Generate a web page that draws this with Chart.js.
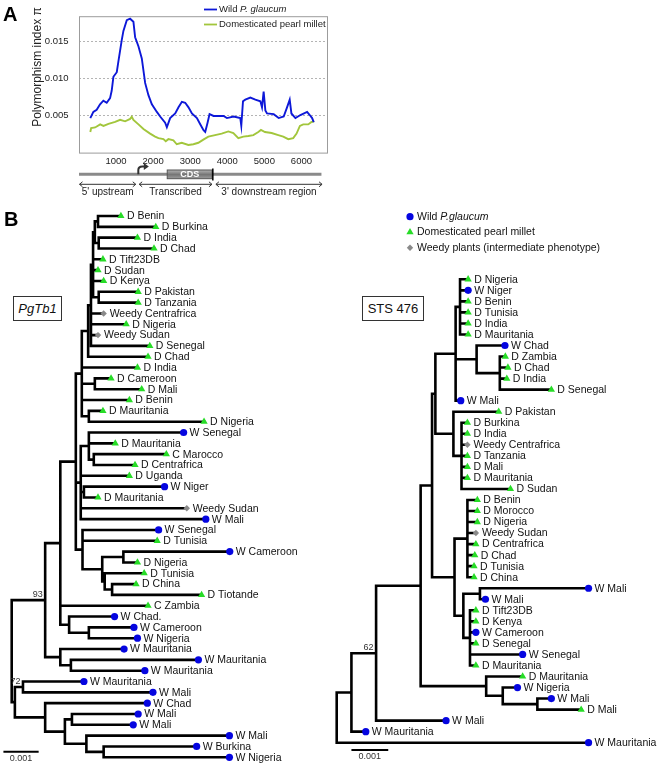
<!DOCTYPE html>
<html lang="en">
<head>
<meta charset="UTF-8">
<title>PgTb1 polymorphism and phylogenies</title>
<script src="https://cdn.jsdelivr.net/npm/chart.js"></script>
<style>
  body { margin: 0; background: #fff; font-family: Arial, "Liberation Sans", sans-serif; }
  #page { position: relative; width: 662px; height: 767px; overflow: hidden; }
  canvas, .panel, .tag { position: absolute; }
  .panel { font-weight: bold; font-size: 20px; line-height: 20px; color: #000; }
  .tag { border: 1px solid #333; display: flex; align-items: center; justify-content: center;
         font-size: 13px; color: #111; background: #fff; box-sizing: border-box; }
</style>
</head>
<body>
<div id="page">
  <canvas id="chartA" width="340" height="205" style="left:0;top:0"></canvas>
  <div class="panel" style="left:3px;top:4px">A</div>
  <canvas id="treeL" width="330" height="567" style="left:0;top:200px"></canvas>
  <canvas id="treeR" width="332" height="567" style="left:330px;top:200px"></canvas>
  <div class="panel" style="left:4px;top:209px">B</div>
  <div class="tag" style="left:13px;top:296px;width:49px;height:25px"><i>PgTb1</i></div>
  <div class="tag" style="left:362px;top:296px;width:62px;height:25px">STS 476</div>
</div>
<script>
// ---- panel A: sliding-window polymorphism along the PgTb1 region ----
const wildPos = [305, 387, 477, 568, 657, 748, 838, 883, 928, 1019, 1063, 1153, 1198, 1289, 1378, 1468, 1514,
  1603, 1694, 1784, 1873, 1965, 2100, 2189, 2324, 2370, 2459, 2595, 2684, 2776, 2865, 2954, 3046, 3181, 3270,
  3359, 3405, 3468, 3522, 3630, 3900, 3991, 4171, 4351, 4378, 4424, 4486, 4622, 4757, 4892, 4937, 4981, 5027,
  5072, 5251, 5387, 5522, 5612, 5684, 5730, 5838, 5973, 6154, 6224, 6289, 6332];
const wildPi = [0.00467, 0.0055, 0.00578, 0.00653, 0.00702, 0.00674, 0.00736, 0.00839, 0.01025, 0.01087, 0.01232,
  0.01521, 0.01645, 0.0179, 0.0181, 0.0177, 0.0156, 0.01438, 0.01273, 0.00942, 0.00777, 0.00653, 0.0055, 0.00488,
  0.00404, 0.00342, 0.00467, 0.00529, 0.00612, 0.00686, 0.00674, 0.00612, 0.00529, 0.00467, 0.00383, 0.00302,
  0.0028, 0.00404, 0.0052, 0.00495, 0.00495, 0.00467, 0.00488, 0.00467, 0.00364, 0.00694, 0.00715, 0.00743,
  0.00715, 0.00694, 0.00612, 0.00826, 0.0057, 0.00529, 0.0052, 0.00467, 0.00488, 0.00612, 0.00715, 0.00529,
  0.00467, 0.00508, 0.0055, 0.00508, 0.00467, 0.00413];
const domPos = [305, 328, 436, 571, 660, 795, 975, 1109, 1244, 1379, 1424, 1469, 1604, 1738, 1918, 2053, 2143,
  2278, 2340, 2412, 2547, 2637, 2771, 2951, 3086, 3220, 3355, 3490, 3670, 3849, 4029, 4164, 4298, 4433, 4568,
  4703, 4837, 4909, 5016, 5196, 5376, 5510, 5645, 5779, 5869, 5959, 6049, 6184, 6273, 6345];
const domPi = [0.00278, 0.00331, 0.0034, 0.00381, 0.0036, 0.00389, 0.00414, 0.00443, 0.00423, 0.00455, 0.00485,
  0.00443, 0.00381, 0.00319, 0.00257, 0.00216, 0.00195, 0.00182, 0.00154, 0.00182, 0.00166, 0.00113, 0.00133,
  0.00104, 0.00113, 0.00133, 0.00175, 0.00216, 0.00237, 0.00257, 0.00286, 0.00265, 0.00195, 0.00216, 0.00224,
  0.00237, 0.00278, 0.00306, 0.00278, 0.00265, 0.00237, 0.00216, 0.00182, 0.00195, 0.00257, 0.0036, 0.00381,
  0.00381, 0.00414, 0.00423];
const xTicks = [1000, 2000, 3000, 4000, 5000, 6000];
const yTicks = [0.005, 0.010, 0.015];

// gene model under the axis (bp, same scale as the plot)
const locusSpan = [0, 6540];
const tssPos = 1600;
const cdsSpan = [2380, 3590];
const stopPos = 3610;
const regionSpans = [[0, 1545], [1610, 3600], [3680, 6570]];
const regionNames = ["5' upstream", "Transcribed", "3' downstream region"];

// ---- panel B: trees. Depths are distances from the root, in 10^-3 subst./site ----
function L(name, type, d) { return { name, type, d }; }
function N(d, kids, boot) { return { d, kids, boot }; }

const pgtb1Tree = N(0, [
  N(0.95, [
    N(1.38, [
      N(1.82, [
        N(1.99, [
          N(2.17, [
            N(2.25, [
              N(2.31, [
                N(2.36, [
                  N(2.45, [L('D Benin', 'D', 3.10), L('D Burkina', 'D', 4.09)]),
                  N(2.47, [L('D India', 'D', 3.57), L('D Chad', 'D', 4.04)])
                ]),
                L('D Tift23DB', 'D', 2.59),
                L('D Sudan', 'D', 2.45),
                L('D Kenya', 'D', 2.61),
                N(2.47, [L('D Pakistan', 'D', 3.59), L('D Tanzania', 'D', 3.59)])
              ]),
              L('Weedy Centrafrica', 'Weedy', 2.61),
              L('D Nigeria', 'D', 3.25),
              L('Weedy Sudan', 'Weedy', 2.45),
              L('D Senegal', 'D', 3.92)
            ]),
            L('D Chad', 'D', 3.87)
          ]),
          L('D India', 'D', 3.57),
          N(2.36, [L('D Cameroon', 'D', 2.82), L('D Mali', 'D', 3.69)]),
          L('D Benin', 'D', 3.34),
          N(2.19, [L('D Mauritania', 'D', 2.59), L('D Nigeria', 'D', 5.46)])
        ]),
        N(1.96, [
          N(2.19, [
            L('W Senegal', 'W', 4.88),
            L('D Mauritania', 'D', 2.94),
            N(2.33, [L('C Marocco', 'D', 4.39), L('D Centrafrica', 'D', 3.50)])
          ]),
          L('D Uganda', 'D', 3.34),
          N(2.05, [L('W Niger', 'W', 4.34), L('D Mauritania', 'D', 2.45)]),
          L('Weedy Sudan', 'Weedy', 4.97),
          L('W Mali', 'W', 5.51)
        ]),
        N(2.01, [
          L('W Senegal', 'W', 4.17),
          L('D Tunisia', 'D', 4.13),
          N(2.57, [
            N(3.17, [L('W Cameroon', 'W', 6.19), L('D Nigeria', 'D', 3.57)]),
            N(2.64, [
              L('D Tunisia', 'D', 3.76),
              N(2.85, [L('D China', 'D', 3.53), L('D Tiotande', 'D', 5.39)])
            ])
          ])
        ])
      ]),
      L('C Zambia', 'D', 3.87),
      N(1.63, [
        L('W Chad.', 'W', 2.92),
        N(2.19, [L('W Cameroon', 'W', 3.47), L('W Nigeria', 'W', 3.57)])
      ])
    ]),
    N(1.38, [
      L('W Mauritania', 'W', 3.19),
      N(1.68, [L('W Mauritania', 'W', 5.30), L('W Mauritania', 'W', 3.78)])
    ])
  ], 93),
  N(0.09, [
    N(0.32, [L('W Mauritania', 'W', 2.05), L('W Mali', 'W', 4.01)], 72),
    N(0.95, [
      L('W Chad', 'W', 3.85),
      N(1.51, [
        N(1.71, [L('W Mali', 'W', 3.59), L('W Mali', 'W', 3.45)]),
        N(2.12, [
          L('W Mali', 'W', 6.18),
          N(2.61, [L('W Burkina', 'W', 5.25), L('W Nigeria', 'W', 6.18)])
        ])
      ])
    ])
  ])
]);

const sts476Tree = N(0, [
  N(0.40, [
    N(1.07, [
      N(2.28, [
        N(2.59, [
          N(2.68, [
            N(3.23, [
              N(3.35, [L('D Nigeria', 'D', 3.57), L('W Niger', 'W', 3.57), L('D Benin', 'D', 3.57),
                       L('D Tunisia', 'D', 3.57), L('D India', 'D', 3.57), L('D Mauritania', 'D', 3.57)]),
              N(3.80, [
                L('W Chad', 'W', 4.57),
                N(4.43, [L('D Zambia', 'D', 4.58), L('D Chad', 'D', 4.65), L('D India', 'D', 4.62),
                         L('D Senegal', 'D', 5.83)])
              ]),
              L('W Mali', 'W', 3.37)
            ]),
            N(3.17, [
              L('D Pakistan', 'D', 4.40),
              N(3.39, [L('D Burkina', 'D', 3.55), L('D India', 'D', 3.55), L('Weedy Centrafrica', 'Weedy', 3.55),
                       L('D Tanzania', 'D', 3.55), L('D Mali', 'D', 3.55), L('D Mauritania', 'D', 3.55),
                       L('D Sudan', 'D', 4.72)])
            ])
          ]),
          N(3.20, [
            N(3.55, [L('D Benin', 'D', 3.82), L('D Morocco', 'D', 3.82), L('D Nigeria', 'D', 3.82),
                     L('Weedy Sudan', 'Weedy', 3.78), L('D Centrafrica', 'D', 3.78), L('D Chad', 'D', 3.75),
                     L('D Tunisia', 'D', 3.73), L('D China', 'D', 3.73)]),
            N(3.44, [
              N(3.89, [L('W Mali', 'W', 6.84), L('W Mali', 'W', 4.04)]),
              N(3.62, [L('D Tift23DB', 'D', 3.78), L('D Kenya', 'D', 3.78), L('W Cameroon', 'W', 3.78),
                       L('D Senegal', 'D', 3.78), L('W Senegal', 'W', 5.05), L('D Mauritania', 'D', 3.78)])
            ])
          ])
        ]),
        N(4.06, [
          L('D Mauritania', 'D', 5.05),
          N(4.51, [L('W Nigeria', 'W', 4.91), N(5.45, [L('W Mali', 'W', 5.83), L('D Mali', 'D', 6.64)])])
        ])
      ]),
      L('W Mali', 'W', 2.97)
    ], 62),
    L('W Mauritania', 'W', 0.79)
  ]),
  L('W Mauritania', 'W', 6.84)
]);

const markerStyle = {
  W: { pointStyle: 'circle', color: '#0505e0', radius: 3.6 },
  D: { pointStyle: 'triangle', color: '#27dc27', radius: 4.2 },
  Weedy: { pointStyle: 'rectRot', color: '#8a8a8a', radius: 3.2 }
};
const legendItems = [
  ['W', 'Wild ', 'P.glaucum'],
  ['D', 'Domesticated pearl millet', ''],
  ['Weedy', 'Weedy plants (intermediate phenotype)', '']
];

const FONT = 'Arial, "Liberation Sans", sans-serif';
Chart.defaults.font.family = FONT;

function line(ctx, x1, y1, x2, y2) {
  ctx.beginPath(); ctx.moveTo(x1, y1); ctx.lineTo(x2, y2); ctx.stroke();
}

// chart A
const panelADecor = {
  id: 'panelADecor',
  afterDraw(chart) {
    const { ctx, chartArea: a } = chart;
    const xs = chart.scales.x;
    const px = v => xs.getPixelForValue(v);
    ctx.save();
    ctx.strokeStyle = '#9c9c9c'; ctx.lineWidth = 1;
    ctx.strokeRect(a.left + 0.5, a.top + 0.5, a.right - a.left, a.bottom - a.top);

    // y title
    ctx.save();
    ctx.translate(37.5, 67); ctx.rotate(-Math.PI / 2);
    ctx.font = '12px ' + FONT; ctx.fillStyle = '#222';
    ctx.textAlign = 'center'; ctx.textBaseline = 'middle';
    ctx.fillText('Polymorphism index \u03c0', 0, 0);
    ctx.restore();

    // legend
    ctx.font = '9.5px ' + FONT; ctx.textBaseline = 'middle'; ctx.fillStyle = '#222';
    chart.data.datasets.forEach((ds, i) => {
      const y = 9.5 + i * 15;
      ctx.strokeStyle = ds.borderColor; ctx.lineWidth = 1.8;
      line(ctx, 204, y, 217, y);
      ctx.fillText(ds.label[0], 219, y);
      if (ds.label[1]) {
        const w = ctx.measureText(ds.label[0]).width;
        ctx.font = 'italic 9.5px ' + FONT;
        ctx.fillText(ds.label[1], 219 + w, y);
        ctx.font = '9.5px ' + FONT;
      }
    });

    // gene model
    const gy = 174.3;
    ctx.strokeStyle = '#8a8a8a'; ctx.lineWidth = 3;
    line(ctx, px(locusSpan[0]), gy, px(locusSpan[1]), gy);
    const c0 = px(cdsSpan[0]), c1 = px(cdsSpan[1]);
    const g = ctx.createLinearGradient(0, 170, 0, 179);
    g.addColorStop(0, '#b4b4b4'); g.addColorStop(0.5, '#767676'); g.addColorStop(1, '#a0a0a0');
    ctx.fillStyle = g; ctx.fillRect(c0, 170, c1 - c0, 8.7);
    ctx.strokeStyle = '#555'; ctx.lineWidth = 1; ctx.strokeRect(c0, 170, c1 - c0, 8.7);
    ctx.fillStyle = '#fff'; ctx.font = 'bold 9px ' + FONT; ctx.textAlign = 'center';
    ctx.fillText('CDS', (c0 + c1) / 2, 174.6);
    ctx.strokeStyle = '#000'; ctx.lineWidth = 1.5;
    line(ctx, px(stopPos), 168.5, px(stopPos), 180.5);
    // transcription start arrow
    const t = px(tssPos);
    ctx.strokeStyle = '#333'; ctx.lineWidth = 2;
    ctx.beginPath(); ctx.moveTo(t, gy); ctx.lineTo(t, 170);
    ctx.quadraticCurveTo(t, 166.5, t + 4, 166.5); ctx.lineTo(t + 6, 166.5); ctx.stroke();
    ctx.fillStyle = '#333';
    ctx.beginPath(); ctx.moveTo(t + 10.5, 166.5); ctx.lineTo(t + 5.5, 163); ctx.lineTo(t + 5.5, 170); ctx.closePath(); ctx.fill();
    // region arrows
    ctx.strokeStyle = '#333'; ctx.lineWidth = 1; ctx.fillStyle = '#222';
    ctx.font = '10px ' + FONT; ctx.textAlign = 'center'; ctx.textBaseline = 'middle';
    regionSpans.forEach((s, i) => {
      const a0 = px(s[0]) + 0.5, a1 = px(s[1]) - 0.5, y = 184.3;
      line(ctx, a0, y, a1, y);
      ctx.beginPath(); ctx.moveTo(a0 + 3, y - 2.5); ctx.lineTo(a0, y); ctx.lineTo(a0 + 3, y + 2.5); ctx.stroke();
      ctx.beginPath(); ctx.moveTo(a1 - 3, y - 2.5); ctx.lineTo(a1, y); ctx.lineTo(a1 - 3, y + 2.5); ctx.stroke();
      ctx.fillText(regionNames[i], (a0 + a1) / 2, 192.5);
    });
    ctx.restore();
  }
};

new Chart(document.getElementById('chartA'), {
  type: 'line',
  data: {
    datasets: [
      { label: ['Wild ', 'P. glaucum'], data: wildPos.map((x, i) => ({ x, y: wildPi[i] })),
        borderColor: '#0d18d8', borderWidth: 1.9, pointRadius: 0 },
      { label: ['Domesticated pearl millet', ''], data: domPos.map((x, i) => ({ x, y: domPi[i] })),
        borderColor: '#a2c63c', borderWidth: 1.9, pointRadius: 0 }
    ]
  },
  options: {
    responsive: false, animation: false, events: [],
    layout: { padding: { top: 4, right: 13, left: 0, bottom: 0 } },
    plugins: { legend: { display: false }, tooltip: { enabled: false } },
    scales: {
      x: {
        type: 'linear', min: 0, max: 6690,
        afterBuildTicks: s => { s.ticks = xTicks.map(v => ({ value: v })); },
        afterFit: s => { s.height = 52.4; },
        grid: { display: false, drawTicks: false }, border: { display: false },
        ticks: { padding: 3, color: '#222', font: { size: 9.5 }, callback: v => String(v) }
      },
      y: {
        min: 0, max: 0.01844,
        afterBuildTicks: s => { s.ticks = yTicks.map(v => ({ value: v })); },
        afterFit: s => { s.width = 79; },
        grid: { color: '#b4b4b4', drawTicks: false }, border: { display: false, dash: [2, 2] },
        ticks: { padding: 10.5, color: '#222', font: { size: 9.5 }, callback: v => v.toFixed(3) }
      }
    }
  },
  plugins: [panelADecor]
});

// trees
function layoutTree(root) {
  const leaves = [], nodes = [];
  let row = 0;
  (function walk(n) {
    if (!n.kids) { n.y = row++; leaves.push(n); return; }
    n.kids.forEach(walk);
    n.y = (n.kids[0].y + n.kids[n.kids.length - 1].y) / 2;
    nodes.push(n);
  })(root);
  return { leaves, nodes };
}

function branchPoints(nodes) {
  const pts = [];
  nodes.forEach(n => {
    const k = n.kids;
    pts.push({ x: n.d, y: k[0].y }, { x: n.d, y: k[k.length - 1].y }, { x: n.d, y: null });
    k.forEach(c => pts.push({ x: n.d, y: c.y }, { x: c.d, y: c.y }, { x: c.d, y: null }));
  });
  return pts;
}

function drawTree(id, tree, opt) {
  const { leaves, nodes } = layoutTree(tree);
  const datasets = [{
    type: 'line', data: branchPoints(nodes), borderColor: '#000', borderWidth: 2.6,
    borderCapStyle: 'square', pointRadius: 0, spanGaps: false, clip: false, order: 2
  }];
  Object.keys(markerStyle).forEach(t => {
    const m = markerStyle[t];
    datasets.push({
      type: 'scatter', data: leaves.filter(l => l.type === t).map(l => ({ x: l.d, y: l.y })),
      pointStyle: m.pointStyle, pointRadius: m.radius, backgroundColor: m.color, borderWidth: 0,
      clip: false, order: 1
    });
  });
  const treeText = {
    id: 'treeText',
    afterDatasetsDraw(chart) {
      const { ctx, scales: { x, y } } = chart;
      ctx.save();
      ctx.fillStyle = '#111'; ctx.font = '10.5px ' + FONT;
      ctx.textAlign = 'left'; ctx.textBaseline = 'middle';
      leaves.forEach(l => ctx.fillText(l.name, x.getPixelForValue(l.d) + 6, y.getPixelForValue(l.y) + 0.5));
      ctx.fillStyle = '#333'; ctx.font = '9px ' + FONT;
      ctx.textAlign = 'right'; ctx.textBaseline = 'alphabetic';
      nodes.filter(n => n.boot).forEach(n =>
        ctx.fillText(String(n.boot), x.getPixelForValue(n.d) - 2.5, y.getPixelForValue(n.y) - 3));
      // scale bar 0.001
      const b0 = x.getPixelForValue(opt.barFrom), b1 = x.getPixelForValue(opt.barFrom + 1);
      ctx.strokeStyle = '#000'; ctx.lineWidth = 2;
      line(ctx, b0, opt.barY, b1, opt.barY);
      ctx.textAlign = 'center'; ctx.textBaseline = 'middle';
      ctx.fillText('0.001', (b0 + b1) / 2, opt.barY + 7);
      if (opt.legend) {
        ctx.font = '10.5px ' + FONT; ctx.textAlign = 'left';
        legendItems.forEach((it, i) => {
          const m = markerStyle[it[0]], ly = 16.7 + i * 15.5;
          ctx.fillStyle = m.color;
          Chart.helpers.drawPoint(ctx, { pointStyle: m.pointStyle, radius: m.radius, borderWidth: 0, rotation: 0 }, 80, ly);
          ctx.fillStyle = '#111';
          ctx.fillText(it[1], 87, ly);
          if (it[2]) {
            const w = ctx.measureText(it[1]).width;
            ctx.font = 'italic 10.5px ' + FONT;
            ctx.fillText(it[2], 87 + w, ly);
            ctx.font = '10.5px ' + FONT;
          }
        });
      }
      ctx.restore();
    }
  };
  new Chart(document.getElementById(id), {
    type: 'scatter',
    data: { datasets },
    options: {
      responsive: false, animation: false, events: [],
      layout: { padding: opt.padding },
      plugins: { legend: { display: false }, tooltip: { enabled: false } },
      scales: {
        x: { type: 'linear', display: false, min: 0, max: opt.xMax },
        y: { type: 'linear', display: false, reverse: true, min: 0, max: leaves.length - 1 }
      }
    },
    plugins: [treeText]
  });
}

drawTree('treeL', pgtb1Tree, {
  padding: { left: 11.7, top: 16, right: 0, bottom: 9.7 }, xMax: 8.916,
  barFrom: -0.235, barY: 551.7
});
drawTree('treeR', sts476Tree, {
  padding: { left: 6.7, top: 79.3, right: 0, bottom: 24.3 }, xMax: 8.721,
  barFrom: 0.40, barY: 550, legend: true
});
</script>
</body>
</html>
